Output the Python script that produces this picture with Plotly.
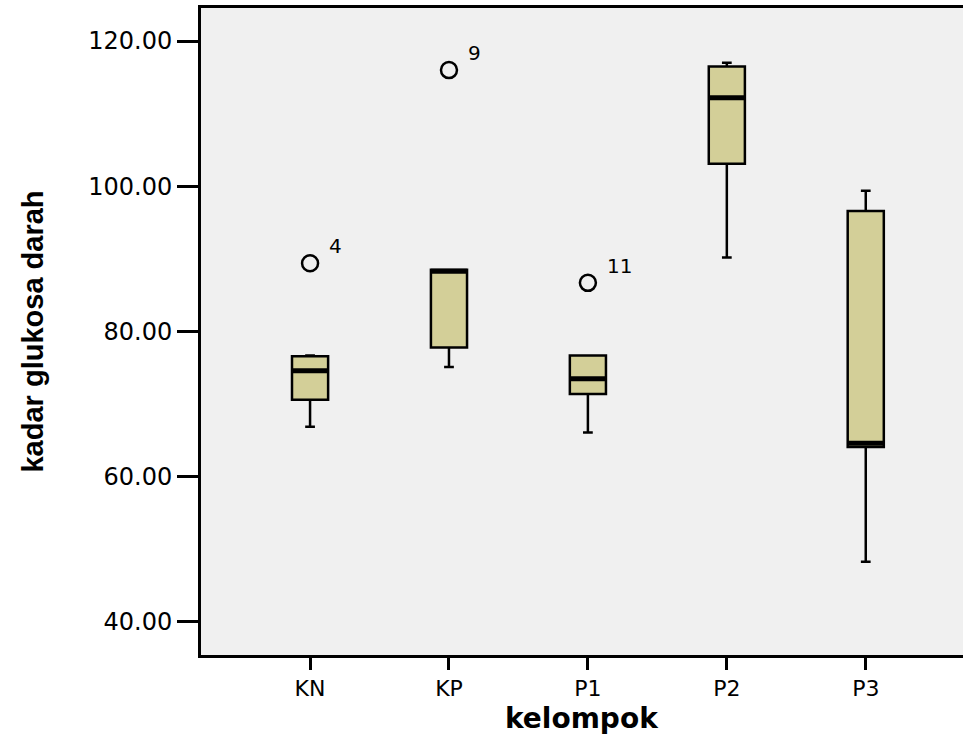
import plotly.graph_objects as go

categories = ["KN", "KP", "P1", "P2", "P3"]
q1 = [70.6, 77.8, 71.4, 103.1, 64.1]
median = [74.6, 88.3, 73.5, 112.2, 64.6]
q3 = [76.6, 88.5, 76.7, 116.5, 96.6]
lower_whisker = [66.9, 75.1, 66.1, 90.2, 48.3]
upper_whisker = [76.7, 88.5, 76.7, 117.0, 99.4]

outlier_group = [0, 1, 2]
outlier_values = [89.4, 116.0, 86.7]
outlier_labels = ["4", "9", "11"]

y_ticks = [40, 60, 80, 100, 120]
y_tick_text = ["40.00", "60.00", "80.00", "100.00", "120.00"]

xpos = list(range(len(categories)))
box_half = 0.13

fig = go.Figure()

fig.add_trace(go.Box(
    x=xpos,
    q1=q1, median=median, q3=q3,
    lowerfence=lower_whisker, upperfence=upper_whisker,
    width=box_half * 2,
    whiskerwidth=0.27,
    fillcolor="#D3CF98",
    line=dict(color="black", width=2.5),
    boxpoints=False,
    hoverinfo="skip",
    showlegend=False,
))

# thick median lines
mx, my = [], []
for i, m in zip(xpos, median):
    mx += [i - box_half, i + box_half, None]
    my += [m, m, None]
fig.add_trace(go.Scatter(
    x=mx, y=my, mode="lines",
    line=dict(color="black", width=5),
    showlegend=False, hoverinfo="skip",
))

fig.add_trace(go.Scatter(
    x=outlier_group, y=outlier_values, mode="markers",
    marker=dict(symbol="circle-open", size=16, color="black",
                line=dict(color="black", width=2.5)),
    showlegend=False, hoverinfo="skip",
))

for g, v, lab in zip(outlier_group, outlier_values, outlier_labels):
    fig.add_annotation(
        x=g, y=v, text=lab, showarrow=False,
        xanchor="left", yanchor="middle",
        xshift=17, yshift=17,
        font=dict(family="DejaVu Sans", size=20, color="black"),
    )

# x-axis title
fig.add_annotation(
    xref="paper", yref="paper", x=0.5, y=0,
    text="<b>kelompok</b>", showarrow=False,
    xanchor="center", yanchor="top", yshift=-45,
    font=dict(family="DejaVu Sans", size=28, color="black"),
)

fig.update_layout(
    width=963, height=734,
    margin=dict(l=201, r=0, t=8, b=79),
    paper_bgcolor="white",
    plot_bgcolor="#F0F0F0",
    xaxis=dict(
        range=[-0.785, 4.70],
        tickmode="array", tickvals=xpos, ticktext=categories,
        ticks="outside", ticklen=12, tickwidth=3, tickcolor="black",
        showline=True, linewidth=3, linecolor="black", mirror=True,
        showgrid=False, zeroline=False,
        tickfont=dict(family="DejaVu Sans", size=22, color="black"),
    ),
    yaxis=dict(
        range=[35.45, 124.55],
        tickmode="array", tickvals=y_ticks, ticktext=y_tick_text,
        ticks="outside", ticklen=21, tickwidth=3, tickcolor="black",
        showline=True, linewidth=3, linecolor="black", mirror=False,
        showgrid=False, zeroline=False,
        tickfont=dict(family="DejaVu Sans", size=24, color="black"),
        title=dict(text="<b>kadar glukosa darah</b>", standoff=37,
                   font=dict(family="Liberation Sans", size=29, color="black")),
    ),
)

fig.write_html(
    "out.html",
    config={"displayModeBar": False},
    post_script="document.body.style.margin='0';document.body.style.overflow='hidden';",
)
